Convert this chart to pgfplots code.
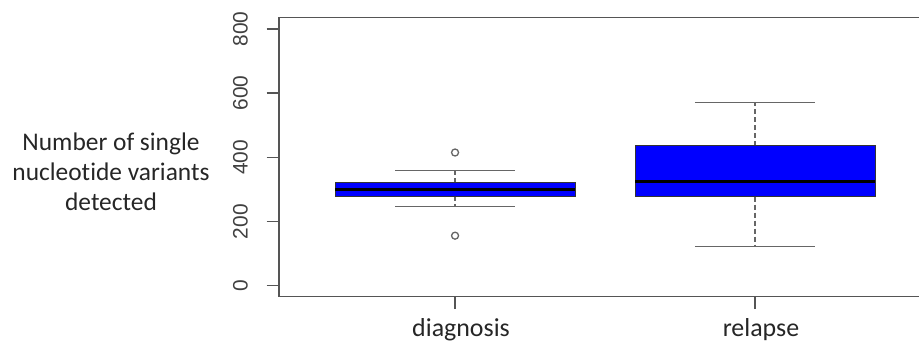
\documentclass[border=0pt]{standalone}
\usepackage{pgfplots}
\pgfplotsset{compat=1.18}
\usepackage{fontspec}
\setmainfont{Liberation Sans}
\newfontfamily\carlito[Ligatures=NoCommon]{Carlito}
\newfontfamily\arialike{Liberation Sans}
\newcommand{\yl}[1]{{\arialike\fontsize{21}{23}\selectfont #1}}
\definecolor{axgray}{HTML}{555555}
\definecolor{wgray}{HTML}{666666}
\definecolor{boxblue}{HTML}{0000FF}
\begin{document}
\begin{tikzpicture}[x=1bp,y=1bp]
\useasboundingbox (0,0) rectangle (919,345);
\begin{axis}[
  at={(279bp,48.3bp)}, anchor=south west,
  scale only axis, width=652bp, height=279.4bp,
  xmin=0.413, xmax=2.587, ymin=-34, ymax=836,
  axis line style={axgray, line width=1.3bp},
  xtick={1,2}, xticklabels={diagnosis,relapse},
  ytick={0,200,400,600,800},
  yticklabels={\yl{0},\yl{200},\yl{400},\yl{600},\yl{800}},
  xtick pos=bottom, ytick pos=left, tick align=outside,
  major tick length=12.5bp,
  tick style={axgray, line width=1.3bp},
  xticklabel style={font=\carlito\fontsize{26}{30}\selectfont, text=black!85, anchor=base, xshift=6bp, yshift=-27bp},
  yticklabel style={text=black!75, xshift=-19bp, rotate=90, anchor=base},
]
% diagnosis
\addplot[wgray, line width=1.3bp, dash pattern=on 5bp off 3bp] coordinates {(1,321) (1,359)};
\addplot[wgray, line width=1.3bp, dash pattern=on 5bp off 3bp] coordinates {(1,279) (1,247)};
\addplot[wgray, line width=1.5bp] coordinates {(0.8,359) (1.2,359)};
\addplot[wgray, line width=1.5bp] coordinates {(0.8,247) (1.2,247)};
\addplot[fill=boxblue, draw=black!80, line width=0.8bp] coordinates {(0.6,279) (1.4,279) (1.4,321) (0.6,321)} -- cycle;
\addplot[black, line width=3.2bp] coordinates {(0.6,301) (1.4,301)};
\addplot[only marks, mark=o, mark size=3.5bp, wgray, mark options={line width=1.3bp}] coordinates {(1,415) (1,156)};
% relapse
\addplot[wgray, line width=1.3bp, dash pattern=on 5bp off 3bp] coordinates {(2,436) (2,570)};
\addplot[wgray, line width=1.3bp, dash pattern=on 5bp off 3bp] coordinates {(2,278) (2,122)};
\addplot[wgray, line width=1.5bp] coordinates {(1.8,570) (2.2,570)};
\addplot[wgray, line width=1.5bp] coordinates {(1.8,122) (2.2,122)};
\addplot[fill=boxblue, draw=black!80, line width=0.8bp] coordinates {(1.6,278) (2.4,278) (2.4,436) (1.6,436)} -- cycle;
\addplot[black, line width=3.2bp] coordinates {(1.6,325) (2.4,325)};
\end{axis}
\node[font=\carlito\fontsize{25.5}{30}\selectfont, align=center, text=black!85, anchor=center] at (111bp,173bp) {Number of single\\nucleotide variants\\detected};
\end{tikzpicture}
\end{document}
